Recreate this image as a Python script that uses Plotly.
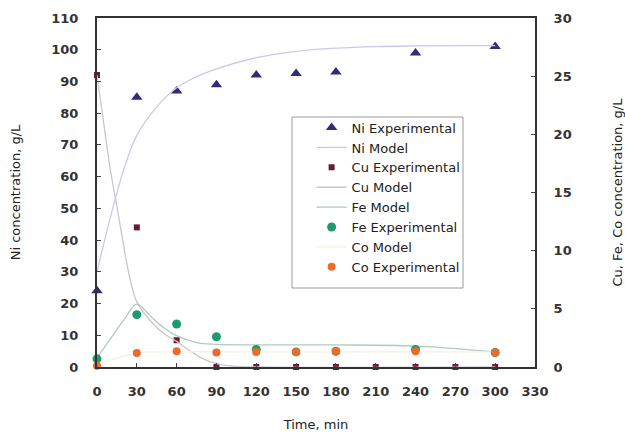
import plotly.graph_objects as go

# Experimental data
t_ni = [0, 30, 60, 90, 120, 150, 180, 240, 300]
ni_exp = [24, 85, 87, 89, 92, 92.5, 93, 99, 101]

t_cu = [0, 30, 60, 90, 120, 150, 180, 210, 240, 270, 300]
cu_exp = [25.1, 12.0, 2.3, 0, 0, 0, 0, 0, 0, 0, 0]

t_fe = [0, 30, 60, 90, 120, 150, 180, 240, 300]
fe_exp = [0.7, 4.5, 3.7, 2.6, 1.5, 1.3, 1.35, 1.5, 1.25]

t_co = [0, 30, 60, 90, 120, 150, 180, 240, 300]
co_exp = [0.1, 1.2, 1.35, 1.25, 1.3, 1.3, 1.35, 1.35, 1.25]

# Model curves
t_ni_mod = [0, 10, 20, 30, 45, 60, 75, 90, 120, 150, 180, 210, 240, 270, 300]
ni_mod = [30, 47, 62, 73, 82, 88, 91.5, 94, 97.5, 99.5, 100.5, 101, 101.2, 101.3, 101.3]

t_cu_mod = [0, 5, 10, 15, 20, 25, 30, 40, 50, 60, 70, 80, 90, 100, 120, 300]
cu_mod = [25.1, 21, 17, 13.8, 10.5, 7.5, 5.6, 4.0, 2.9, 2.2, 1.4, 0.7, 0.3, 0.1, 0, 0]

t_fe_mod = [0, 10, 20, 30, 40, 50, 60, 75, 90, 120, 180, 240, 300]
fe_mod = [0.8, 2.4, 4.0, 5.4, 4.4, 3.4, 2.7, 2.1, 1.95, 1.9, 1.9, 1.8, 1.3]

t_co_mod = [0, 30, 60, 120, 180, 240, 300]
co_mod = [0.2, 1.2, 1.3, 1.3, 1.3, 1.3, 1.3]

x_ticks = list(range(0, 331, 30))

FONT = "DejaVu Sans, sans-serif"
TICKFONT = dict(family=FONT, size=13, color="#333", weight="bold")

fig = go.Figure()
fig.add_trace(go.Scatter(x=t_ni, y=ni_exp, mode="markers", name="Ni Experimental",
                         marker=dict(symbol="triangle-up", size=10, color="#2f2d78"),
                         cliponaxis=False, yaxis="y"))
fig.add_trace(go.Scatter(x=t_ni_mod, y=ni_mod, mode="lines", name="Ni Model",
                         line=dict(color="#c9c9ec", width=1.3, shape="spline"), yaxis="y"))
fig.add_trace(go.Scatter(x=t_cu, y=cu_exp, mode="markers", name="Cu Experimental",
                         marker=dict(symbol="square", size=6, color="#6b1832"),
                         cliponaxis=False, yaxis="y2"))
fig.add_trace(go.Scatter(x=t_cu_mod, y=cu_mod, mode="lines", name="Cu Model",
                         line=dict(color="#c8c8c8", width=1.3, shape="spline"), yaxis="y2"))
fig.add_trace(go.Scatter(x=t_fe_mod, y=fe_mod, mode="lines", name="Fe Model",
                         line=dict(color="#b2cabd", width=1.3, shape="spline"), yaxis="y2"))
fig.add_trace(go.Scatter(x=t_fe, y=fe_exp, mode="markers", name="Fe Experimental",
                         marker=dict(symbol="circle", size=9, color="#1f9a6c"),
                         cliponaxis=False, yaxis="y2"))
fig.add_trace(go.Scatter(x=t_co_mod, y=co_mod, mode="lines", name="Co Model",
                         line=dict(color="#f6f1e4", width=1.3, shape="spline"), yaxis="y2"))
fig.add_trace(go.Scatter(x=t_co, y=co_exp, mode="markers", name="Co Experimental",
                         marker=dict(symbol="circle", size=8, color="#ec6a2c"),
                         cliponaxis=False, yaxis="y2"))

# plot area: x 97..535, y 18..367 (438 x 349 px)
fig.update_layout(
    width=625, height=434,
    margin=dict(l=97, r=90, t=18, b=67),
    paper_bgcolor="white", plot_bgcolor="white",
    font=dict(family=FONT, size=13, color="#222"),
    showlegend=True,
    legend=dict(x=0.49, y=0.729, xanchor="left", yanchor="top",
                borderwidth=0, bgcolor="rgba(0,0,0,0)",
                font=dict(family=FONT, size=13, color="#222"), itemwidth=30),
    shapes=[dict(type="rect", xref="paper", yref="paper",
                 x0=(292 - 97) / 438, x1=(463 - 97) / 438,
                 y0=(367 - 288) / 349, y1=(367 - 117) / 349,
                 line=dict(color="#9a9a9a", width=1), fillcolor="white", layer="below")],
    xaxis=dict(range=[0, 330], tickvals=x_ticks, ticks="inside", ticklen=4,
               showline=True, linecolor="#333", linewidth=2, mirror=True,
               showgrid=False, zeroline=False, ticklabelstandoff=11, automargin=False,
               title=dict(text="Time, min", font=dict(family=FONT, size=13), standoff=22),
               tickfont=TICKFONT),
    yaxis=dict(range=[0, 110], dtick=10, ticks="inside", ticklen=4,
               showline=True, linecolor="#333", linewidth=2,
               showgrid=False, zeroline=False, ticklabelstandoff=14, automargin=False,
               title=dict(text="Ni concentration, g/L", font=dict(family=FONT, size=13), standoff=28),
               tickfont=TICKFONT),
    yaxis2=dict(range=[0, 30], dtick=5, ticks="inside", ticklen=4, overlaying="y", side="right",
                showline=True, linecolor="#333", linewidth=2,
                showgrid=False, zeroline=False, ticklabelstandoff=14, automargin=False,
                title=dict(text="Cu, Fe, Co concentration, g/L", font=dict(family=FONT, size=13), standoff=45),
                tickfont=TICKFONT),
)

fig.write_html("out.html")
